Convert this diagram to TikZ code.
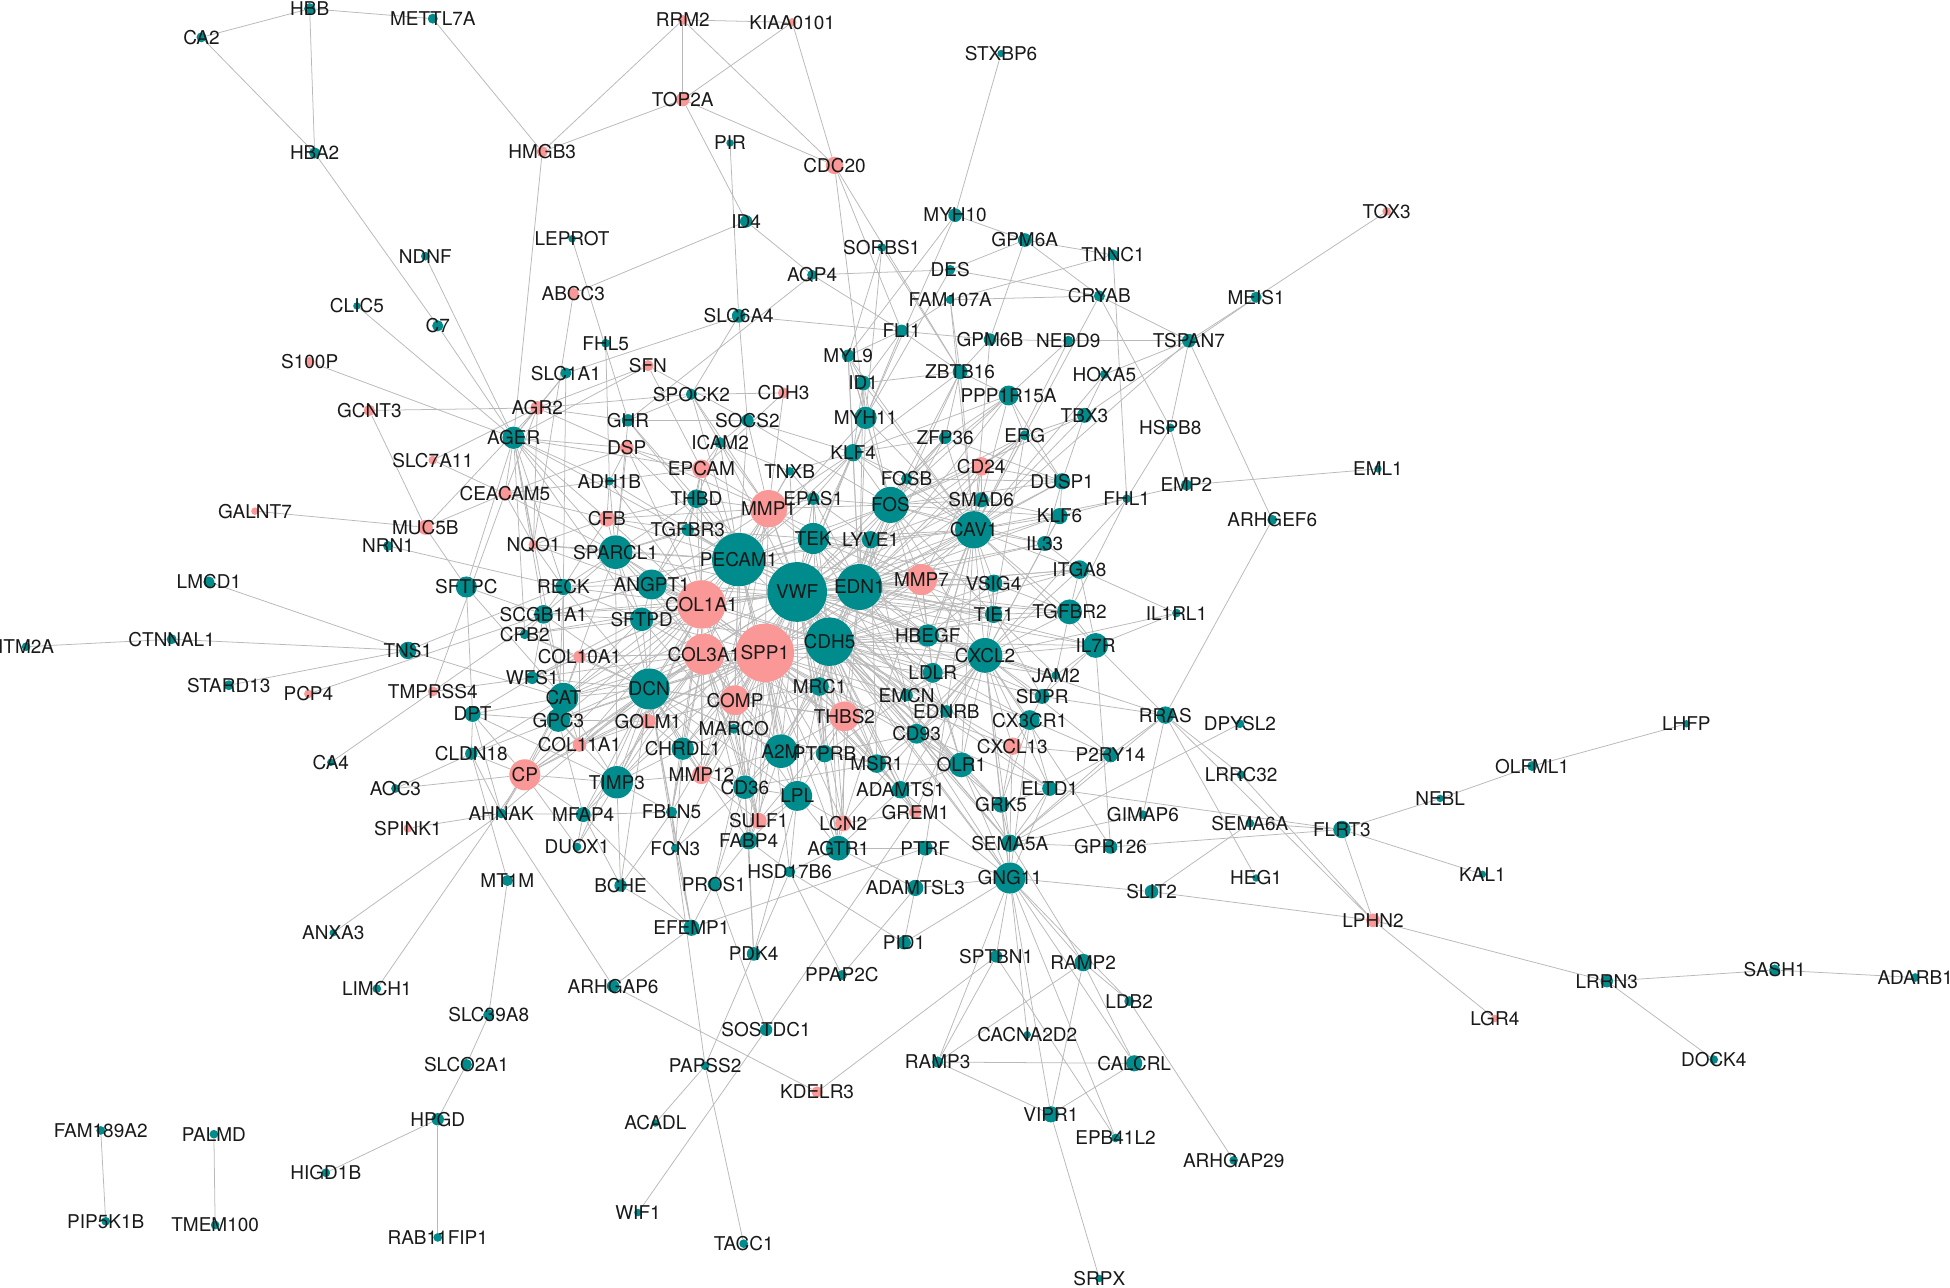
\documentclass[tikz,border=0pt]{standalone}
\usepackage{fontspec}
\setmainfont{TeX Gyre Heros}
\usetikzlibrary{backgrounds}
\definecolor{tl}{RGB}{0,140,140}
\definecolor{pk}{RGB}{249,152,150}
\definecolor{edgegray}{RGB}{185,185,185}

% genes: name/x/y/diameter/colour
\def\genelist{HBB/249/7/9/tl,METTL7A/348/15/8/tl,CA2/162/30/8/tl,HBA2/253/123/9/tl,NDNF/342/206/7/tl,
CLIC5/287/246/6/tl,C7/352/262/9/tl,S100P/249/291/8/pk,GCNT3/297/330/9/pk,RRM2/549/16/8/pk,
KIAA0101/637/18/7/pk,TOP2A/549/80/11/pk,HMGB3/436/122/9/pk,PIR/587/115/6/tl,CDC20/671/133/14/pk,
ID4/600/178/10/tl,LEPROT/460/192/6/tl,ABCC3/461/236/9/pk,SLC6A4/594/254/11/tl,FHL5/487/276/7/tl,
SFN/521/294/9/pk,SLC1A1/455/300/9/tl,SPOCK2/556/317/9/tl,CDH3/630/316/9/pk,AGR2/432/328/11/pk,
GHR/505/338/10/tl,SOCS2/601/338/10/tl,STXBP6/805/43/6/tl,MYH10/768/173/11/tl,SORBS1/709/199/7/tl,
AQP4/653/221/8/tl,DES/764/217/8/tl,FAM107A/764/241/7/tl,FLI1/725/266/10/tl,MYL9/682/286/10/tl,
ID1/694/308/12/tl,MYH11/696/336/18/tl,ZBTB16/772/299/12/tl,GPM6A/824/193/11/tl,TNNC1/895/205/9/tl,
CRYAB/884/238/9/tl,GPM6B/796/273/10/tl,NEDD9/859/274/8/tl,TSPAN7/956/274/11/tl,MEIS1/1010/239/9/tl,
TOX3/1115/170/7/pk,HOXA5/888/301/7/tl,PPP1R15A/811/318/16/tl,TBX3/872/334/12/tl,HSPB8/941/344/7/tl,
ZFP36/760/352/10/tl,ERG/824/350/8/tl,CD24/789/375/15/pk,DUSP1/854/387/13/tl,FOSB/729/385/9/tl,
KLF4/686/364/14/tl,EML1/1108/377/6/tl,EMP2/954/390/9/tl,FHL1/906/401/7/tl,SMAD6/789/402/12/tl,
KLF6/852/415/13/tl,ARHGEF6/1023/418/8/tl,IL33/840/437/12/tl,CAV1/783/426/30/tl,ITGA8/868/458/15/tl,
VSIG4/799/469/14/tl,TIE1/799/494/14/tl,TGFBR2/860/492/20/tl,IL1RL1/946/493/7/tl,IL7R/881/519/20/tl,
CXCL2/792/527/28/tl,JAM2/849/543/7/tl,SDPR/838/560/12/tl,RRAS/937/575/14/tl,DPYSL2/997/582/7/tl,
CX3CR1/828/579/16/tl,CXCL13/814/600/14/pk,P2RY14/893/607/12/tl,LRRC32/998/623/7/tl,ELTD1/844/634/12/tl,
GRK5/805/647/13/tl,GIMAP6/919/655/7/tl,SEMA6A/1005/662/7/tl,FLRT3/1079/667/14/tl,NEBL/1158/642/6/tl,
SEMA5A/812/678/14/tl,GPR126/893/681/11/tl,LHFP/1356/582/6/tl,OLFML1/1232/616/8/tl,KAL1/1192/703/6/tl,
LPHN2/1104/740/11/pk,LGR4/1202/819/6/pk,LRRN3/1292/789/10/tl,SASH1/1427/780/9/tl,ADARB1/1540/786/7/tl,
DOCK4/1378/852/7/tl,HEG1/1010/706/6/tl,SLIT2/926/717/11/tl,GNG11/812/706/25/tl,PTRF/744/682/12/tl,
ADAMTSL3/736/714/13/tl,PID1/727/758/11/tl,SPTBN1/801/769/10/tl,RAMP2/871/774/14/tl,LDB2/908/805/8/tl,
CACNA2D2/826/832/6/tl,CALCRL/912/855/13/tl,RAMP3/754/854/9/tl,VIPR1/845/896/13/tl,EPB41L2/897/915/7/tl,
ARHGAP29/992/933/7/tl,SRPX/884/1028/6/tl,LMCD1/168/468/9/tl,ITM2A/21/520/7/tl,CTNNAL1/138/514/8/tl,
STARD13/184/551/8/tl,PCP4/248/558/7/pk,TNS1/328/523/14/tl,TMPRSS4/348/556/8/pk,GALNT7/205/411/6/pk,
MUC5B/342/424/12/pk,NRN1/312/439/8/tl,SLC7A11/348/370/7/pk,SFTPC/375/472/17/tl,DPT/380/574/13/tl,
CA4/266/613/6/tl,CLDN18/379/606/10/tl,AOC3/318/634/7/tl,SPINK1/328/666/7/pk,AHNAK/403/654/8/tl,
ANXA3/268/750/6/tl,LIMCH1/303/795/7/tl,MT1M/408/708/9/tl,SLC39A8/393/816/9/tl,SLCO2A1/375/856/9/tl,
HPGD/352/900/10/tl,HIGD1B/262/943/7/tl,RAB11FIP1/352/995/7/tl,FAM189A2/81/909/7/tl,PIP5K1B/85/982/7/tl,
PALMD/172/912/7/tl,TMEM100/173/985/7/tl,AGER/413/352/18/tl,CEACAM5/406/397/11/pk,NQO1/429/438/8/pk,
RECK/453/472/13/tl,SCGB1A1/437/494/15/tl,CPB2/422/510/8/tl,COL10A1/466/528/10/pk,WFS1/428/545/10/tl,
CAT/453/561/24/tl,GPC3/449/579/19/tl,COL11A1/466/599/11/pk,CP/422/623/25/pk,TIMP3/496/629/26/tl,
MFAP4/469/655/12/tl,DUOX1/464/681/7/tl,BCHE/499/712/10/tl,FCN3/543/682/7/tl,FBLN5/540/653/9/tl,
PROS1/574/711/10/tl,HSD17B6/635/701/9/tl,AGTR1/674/682/20/tl,EFEMP1/556/746/13/tl,PDK4/606/767/11/tl,
ARHGAP6/493/793/10/tl,SOSTDC1/616/828/10/tl,PAPSS2/567/857/7/tl,KDELR3/657/878/9/pk,ACADL/527/903/6/tl,
WIF1/513/975/6/tl,TACC1/598/1000/7/tl,PPAP2C/677/784/8/tl,DSP/504/360/11/pk,ADH1B/490/387/7/tl,
ICAM2/579/356/9/tl,EPCAM/564/377/15/pk,THBD/560/401/15/tl,CFB/488/417/13/pk,TGFBR3/553/426/10/tl,
SPARCL1/495/444/27/tl,ANGPT1/524/470/24/tl,SFTPD/516/498/19/tl,TNXB/635/379/7/tl,EPAS1/654/401/10/tl,
MMP1/618/409/30/pk,TEK/654/433/25/tl,LYVE1/700/434/14/tl,PECAM1/594/450/43/tl,VWF/641/476/48/tl,
EDN1/691/472/37/tl,MMP7/741/466/25/pk,COL1A1/564/486/39/pk,SPP1/615/525/47/pk,COL3A1/566/526/33/pk,
DCN/522/554/33/tl,CDH5/667/516/39/tl,FOS/716/406/29/tl,COMP/591/563/24/pk,MRC1/659/552/15/tl,
HBEGF/746/511/18/tl,LDLR/750/541/16/tl,EMCN/729/559/10/tl,EDNRB/761/572/10/tl,CD93/737/590/16/tl,
THBS2/679/576/24/pk,GOLM1/521/580/12/pk,MARCO/590/586/8/tl,CHRDL1/549/602/18/tl,A2M/628/604/27/tl,
PTPRB/663/606/14/tl,MSR1/705/614/15/tl,OLR1/773/615/20/tl,MMP12/564/623/15/pk,CD36/599/633/19/tl,
LPL/641/640/24/tl,ADAMTS1/724/635/14/tl,GREM1/736/653/10/pk,SULF1/610/660/13/pk,LCN2/678/662/13/pk,
FABP4/602/676/14/tl}

% interactions
\def\linklist{HBB/CA2,HBB/METTL7A,HBB/HBA2,CA2/HBA2,HBA2/C7,C7/AGER,METTL7A/HMGB3,NDNF/AGER,CLIC5/AGER,
S100P/AGER,GCNT3/AGR2,GCNT3/MUC5B,HMGB3/RRM2,HMGB3/TOP2A,HMGB3/AGER,RRM2/KIAA0101,RRM2/TOP2A,RRM2/CDC20,
KIAA0101/TOP2A,KIAA0101/CDC20,TOP2A/CDC20,TOP2A/ID4,PIR/SLC6A4,ID4/ABCC3,ID4/AQP4,AQP4/FLI1,AQP4/DES,
AQP4/GHR,LEPROT/GHR,ABCC3/NQO1,SLC1A1/SLC6A4,FHL5/ADH1B,SFN/AGR2,SFN/EPCAM,SFN/SOCS2,CDC20/MYH11,
CDC20/ZBTB16,CDC20/FLI1,STXBP6/MYH10,MYH10/GPM6A,MYH10/MYL9,MYH10/MYH11,SORBS1/MYH11,SORBS1/ZBTB16,
SORBS1/MYL9,DES/MYH11,DES/CRYAB,DES/GPM6A,SLC6A4/GPM6B,SLC6A4/SPOCK2,SLC6A4/SOCS2,FLI1/MYL9,FLI1/ZBTB16,
FLI1/MYH11,FLI1/FAM107A,FLI1/ID1,ID1/MYH11,ID1/ZBTB16,MYL9/ID1,GHR/SOCS2,GHR/SPOCK2,AGR2/SPOCK2,
GPM6A/TNNC1,GPM6A/CRYAB,GPM6A/GPM6B,TNNC1/FHL1,FAM107A/TNNC1,FAM107A/CRYAB,CRYAB/TSPAN7,CRYAB/HSPB8,
NEDD9/TSPAN7,NEDD9/GPM6B,NEDD9/PPP1R15A,TSPAN7/MEIS1,MEIS1/TOX3,MEIS1/TBX3,TSPAN7/HOXA5,TSPAN7/HSPB8,
TSPAN7/ARHGEF6,ARHGEF6/RRAS,HSPB8/EMP2,HSPB8/FHL1,FHL1/EMP2,EMP2/EML1,FHL1/KLF6,FHL1/TGFBR2,FHL1/CXCL2,
IL1RL1/ITGA8,IL1RL1/IL7R,IL7R/RRAS,IL7R/GPR126,IL7R/TGFBR2,IL7R/CXCL2,IL7R/ITGA8,RRAS/SDPR,RRAS/SEMA5A,
RRAS/LPHN2,RRAS/HEG1,RRAS/LRRC32,DPYSL2/SEMA5A,LRRC32/LPHN2,ELTD1/FLRT3,GPR126/FLRT3,SEMA6A/FLRT3,
NEBL/FLRT3,NEBL/OLFML1,OLFML1/LHFP,FLRT3/KAL1,FLRT3/LPHN2,LPHN2/SLIT2,LPHN2/LRRN3,LPHN2/LGR4,LRRN3/SASH1,
SASH1/ADARB1,LRRN3/DOCK4,SLIT2/SEMA6A,SLIT2/GNG11,GIMAP6/SEMA5A,GIMAP6/RRAS,P2RY14/CXCL13,P2RY14/RRAS,
P2RY14/SEMA5A,GNG11/RAMP2,GNG11/SPTBN1,GNG11/CALCRL,GNG11/VIPR1,GNG11/LDB2,GNG11/EPB41L2,GNG11/CACNA2D2,
GNG11/SEMA5A,GNG11/GRK5,GNG11/ELTD1,GNG11/CD93,GNG11/CX3CR1,GNG11/PTRF,GNG11/OLR1,GNG11/RAMP3,RAMP2/RAMP3,
RAMP2/LDB2,RAMP2/CALCRL,RAMP2/VIPR1,LDB2/ARHGAP29,CALCRL/VIPR1,CALCRL/RAMP3,VIPR1/SRPX,VIPR1/RAMP3,
SPTBN1/EPB41L2,SPTBN1/RAMP3,KDELR3/SPTBN1,KDELR3/ARHGAP6,PID1/HSD17B6,PID1/ADAMTSL3,PID1/GNG11,
PPAP2C/ADAMTSL3,PPAP2C/HSD17B6,SOSTDC1/PROS1,SOSTDC1/GREM1,SOSTDC1/WIF1,ACADL/PAPSS2,PAPSS2/PDK4,
PAPSS2/TACC1,PAPSS2/FCN3,EFEMP1/BCHE,EFEMP1/ARHGAP6,EFEMP1/PTRF,EFEMP1/FBLN5,EFEMP1/MFAP4,EFEMP1/DCN,
ARHGAP6/AHNAK,MT1M/SLC39A8,MT1M/CLDN18,SLC39A8/SLCO2A1,SLCO2A1/HPGD,HPGD/HIGD1B,HPGD/RAB11FIP1,
FAM189A2/PIP5K1B,PALMD/TMEM100,ANXA3/AHNAK,LIMCH1/CP,SPINK1/AHNAK,AOC3/CLDN18,CA4/SCGB1A1,LMCD1/TNS1,
CTNNAL1/TNS1,ITM2A/CTNNAL1,STARD13/TNS1,PCP4/SCGB1A1,TNS1/RECK,TNS1/CAT,TMPRSS4/WFS1,TMPRSS4/CEACAM5,
GALNT7/MUC5B,NRN1/RECK,MUC5B/SFTPC,MUC5B/CEACAM5,MUC5B/AGR2,SLC7A11/CEACAM5,SLC7A11/AGR2,SFTPC/DPT,
SFTPC/SCGB1A1,SFTPC/AGER,DPT/CLDN18,SFTPC/CAT,
AGER/AGR2,AGER/CEACAM5,AGER/SCGB1A1,AGER/RECK,AGER/PECAM1,AGER/SPARCL1,AGER/DSP,AGER/ADH1B,AGER/SLC1A1,
AGER/SFN,AGER/NQO1,AGER/CAT,AGER/SFTPD,AGER/CPB2,AGER/EPCAM,AGER/CFB,AGR2/CEACAM5,AGR2/DSP,AGR2/SLC1A1,
AGR2/GHR,AGR2/NQO1,CEACAM5/NQO1,CEACAM5/DSP,CEACAM5/EPCAM,CEACAM5/CFB,CEACAM5/SPARCL1,SPOCK2/PECAM1,
SOCS2/KLF4,SOCS2/FOS,CDH3/MMP1,CDH3/EPCAM,CDH3/SPOCK2,SLC1A1/RECK,GHR/SPARCL1,GHR/THBD,SPOCK2/ICAM2,
SOCS2/ICAM2,DSP/EPCAM,DSP/SPARCL1,
ZBTB16/KLF4,ZBTB16/FOS,ZBTB16/PPP1R15A,ZBTB16/ZFP36,PPP1R15A/ZFP36,PPP1R15A/ERG,PPP1R15A/DUSP1,
PPP1R15A/KLF4,PPP1R15A/FOSB,HOXA5/TBX3,HOXA5/CAV1,TBX3/ERG,TBX3/CAV1,TBX3/DUSP1,ERG/DUSP1,ERG/TIE1,
ERG/VWF,ERG/CD24,CD24/DUSP1,CD24/SMAD6,ZFP36/DUSP1,ZFP36/FOSB,DUSP1/KLF6,DUSP1/IL33,KLF6/IL33,KLF6/SMAD6,
IL33/ITGA8,ITGA8/TGFBR2,TGFBR2/TIE1,TGFBR2/VSIG4,TGFBR2/JAM2,TGFBR2/CXCL2,JAM2/SDPR,SDPR/CX3CR1,
CX3CR1/CXCL13,CX3CR1/P2RY14,ELTD1/GRK5,GRK5/SEMA5A,ELTD1/SEMA5A,MYH11/MYL9,MYH11/KLF4,ID1/KLF4,ID1/FOS,
GPM6B/ZBTB16,GPM6B/CAV1,FAM107A/ZBTB16,FAM107A/CAV1,MYL9/KLF4,MYH11/FOS,MYH11/CAV1,ZFP36/KLF4,FOSB/KLF4,
FOSB/DUSP1,FOSB/EDN1,
VWF/PECAM1,VWF/CDH5,VWF/EDN1,VWF/SPP1,VWF/COL1A1,VWF/COL3A1,VWF/TEK,VWF/MMP1,VWF/CAV1,VWF/CXCL2,VWF/FOS,
VWF/DCN,VWF/A2M,VWF/THBS2,VWF/COMP,VWF/MMP7,VWF/HBEGF,VWF/TIE1,VWF/VSIG4,VWF/LYVE1,VWF/EPAS1,VWF/ANGPT1,
VWF/SPARCL1,VWF/TGFBR3,VWF/THBD,VWF/ICAM2,VWF/MRC1,VWF/CD36,VWF/LPL,VWF/PTPRB,VWF/MSR1,VWF/EMCN,VWF/CD93,
VWF/OLR1,VWF/LDLR,VWF/ITGA8,VWF/TGFBR2,VWF/IL33,VWF/KLF4,VWF/MYH11,VWF/KLF6,VWF/SMAD6,VWF/EDNRB,VWF/ADAMTS1,
VWF/GNG11,VWF/SEMA5A,VWF/CX3CR1,VWF/SDPR,VWF/JAM2,VWF/CAT,VWF/TIMP3,VWF/SFTPD,VWF/CHRDL1,VWF/MARCO,
VWF/FABP4,VWF/AGTR1,VWF/LCN2,VWF/SULF1,VWF/SCGB1A1,VWF/IL7R,VWF/ELTD1,VWF/GRK5,VWF/TNXB,VWF/ZFP36,
PECAM1/CDH5,PECAM1/EDN1,PECAM1/SPP1,PECAM1/COL1A1,PECAM1/COL3A1,PECAM1/TEK,PECAM1/MMP1,PECAM1/CAV1,
PECAM1/ICAM2,PECAM1/EPCAM,PECAM1/THBD,PECAM1/TGFBR3,PECAM1/ANGPT1,PECAM1/SPARCL1,PECAM1/DCN,PECAM1/CXCL2,
PECAM1/FOS,PECAM1/KLF4,PECAM1/TNXB,PECAM1/ADH1B,PECAM1/CFB,PECAM1/DSP,PECAM1/SFTPD,PECAM1/RECK,PECAM1/COMP,
PECAM1/MARCO,PECAM1/CD36,PECAM1/A2M,PECAM1/LYVE1,PECAM1/EPAS1,PECAM1/VSIG4,PECAM1/TIE1,PECAM1/HBEGF,
PECAM1/CAT,PECAM1/NQO1,PECAM1/SCGB1A1,PECAM1/GHR,PECAM1/SOCS2,PECAM1/MYH11,PECAM1/LPL,
SPP1/COL1A1,SPP1/COL3A1,SPP1/CDH5,SPP1/DCN,SPP1/COMP,SPP1/MMP1,SPP1/MMP7,SPP1/MMP12,SPP1/THBS2,SPP1/A2M,
SPP1/CD36,SPP1/LPL,SPP1/MARCO,SPP1/MRC1,SPP1/LCN2,SPP1/SULF1,SPP1/TIMP3,SPP1/CHRDL1,SPP1/GOLM1,SPP1/CP,
SPP1/CAT,SPP1/COL10A1,SPP1/COL11A1,SPP1/GPC3,SPP1/CXCL2,SPP1/FOS,SPP1/EDN1,SPP1/CAV1,SPP1/HBEGF,SPP1/LDLR,
SPP1/PTPRB,SPP1/MSR1,SPP1/OLR1,SPP1/FABP4,SPP1/FBLN5,SPP1/AGTR1,SPP1/SFTPD,SPP1/ANGPT1,SPP1/SPARCL1,
SPP1/CXCL13,SPP1/TEK,SPP1/EMCN,SPP1/CD93,SPP1/ADAMTS1,SPP1/GREM1,SPP1/PROS1,SPP1/HSD17B6,
COL1A1/COL3A1,COL1A1/DCN,COL1A1/MMP1,COL1A1/COMP,COL1A1/THBS2,COL1A1/SPARCL1,COL1A1/ANGPT1,COL1A1/SFTPD,
COL1A1/RECK,COL1A1/COL10A1,COL1A1/COL11A1,COL1A1/TIMP3,COL1A1/CP,COL1A1/CAT,COL1A1/GOLM1,COL1A1/MMP12,
COL1A1/CHRDL1,COL1A1/EPCAM,COL1A1/CFB,COL1A1/THBD,COL1A1/TGFBR3,COL1A1/MMP7,COL1A1/CDH5,COL1A1/EDN1,
COL1A1/SCGB1A1,COL1A1/WFS1,COL1A1/GPC3,COL1A1/SULF1,COL1A1/FBLN5,COL1A1/A2M,COL1A1/TEK,COL1A1/CPB2,
COL1A1/NQO1,COL1A1/ADH1B,COL1A1/DSP,
COL3A1/DCN,COL3A1/COMP,COL3A1/THBS2,COL3A1/TIMP3,COL3A1/MMP12,COL3A1/CHRDL1,COL3A1/GOLM1,COL3A1/COL11A1,
COL3A1/COL10A1,COL3A1/CP,COL3A1/CAT,COL3A1/GPC3,COL3A1/MFAP4,COL3A1/FBLN5,COL3A1/SULF1,COL3A1/CD36,
COL3A1/LPL,COL3A1/A2M,COL3A1/MARCO,COL3A1/MRC1,COL3A1/SFTPD,COL3A1/ANGPT1,COL3A1/SPARCL1,COL3A1/MMP1,
COL3A1/WFS1,COL3A1/FABP4,COL3A1/CDH5,
CDH5/EDN1,CDH5/TEK,CDH5/CAV1,CDH5/HBEGF,CDH5/CXCL2,CDH5/LDLR,CDH5/EMCN,CDH5/EDNRB,CDH5/CD93,CDH5/PTPRB,
CDH5/MSR1,CDH5/OLR1,CDH5/MRC1,CDH5/THBS2,CDH5/A2M,CDH5/LPL,CDH5/ADAMTS1,CDH5/GREM1,CDH5/TIE1,CDH5/VSIG4,
CDH5/MMP7,CDH5/LYVE1,CDH5/EPAS1,CDH5/FOS,CDH5/TGFBR2,CDH5/IL7R,CDH5/JAM2,CDH5/SDPR,CDH5/CX3CR1,
CDH5/CXCL13,CDH5/ELTD1,CDH5/GRK5,CDH5/SEMA5A,CDH5/GNG11,CDH5/ITGA8,CDH5/AGTR1,CDH5/LCN2,CDH5/COMP,
CDH5/DCN,CDH5/SFTPD,CDH5/ANGPT1,
EDN1/CAV1,EDN1/FOS,EDN1/MMP7,EDN1/TEK,EDN1/LYVE1,EDN1/HBEGF,EDN1/CXCL2,EDN1/TIE1,EDN1/VSIG4,EDN1/KLF4,
EDN1/ZFP36,EDN1/KLF6,EDN1/DUSP1,EDN1/ERG,EDN1/SMAD6,EDN1/IL33,EDN1/ITGA8,EDN1/TGFBR2,EDN1/IL7R,EDN1/EPAS1,
EDN1/CD24,EDN1/PPP1R15A,EDN1/ZBTB16,EDN1/MYH11,EDN1/ID1,EDN1/MYL9,EDN1/LDLR,EDN1/EMCN,EDN1/MRC1,EDN1/A2M,
EDN1/AGTR1,EDN1/EDNRB,EDN1/THBS2,EDN1/MMP1,
DCN/CAT,DCN/GPC3,DCN/TIMP3,DCN/GOLM1,DCN/CHRDL1,DCN/COMP,DCN/MFAP4,DCN/FBLN5,DCN/CP,DCN/COL11A1,
DCN/COL10A1,DCN/WFS1,DCN/SCGB1A1,DCN/SFTPD,DCN/ANGPT1,DCN/SPARCL1,DCN/RECK,DCN/MMP12,DCN/CD36,DCN/A2M,
DCN/MARCO,DCN/DUOX1,DCN/FCN3,DCN/BCHE,DCN/AHNAK,DCN/CPB2,DCN/LPL,DCN/THBS2,DCN/FABP4,
CAV1/FOS,CAV1/CXCL2,CAV1/MMP7,CAV1/HBEGF,CAV1/SMAD6,CAV1/KLF6,CAV1/DUSP1,CAV1/IL33,CAV1/ITGA8,CAV1/TGFBR2,
CAV1/VSIG4,CAV1/TIE1,CAV1/CD24,CAV1/ERG,CAV1/ZFP36,CAV1/FOSB,CAV1/KLF4,CAV1/PPP1R15A,CAV1/ZBTB16,
CAV1/NEDD9,CAV1/FHL1,CAV1/LDLR,CAV1/EMCN,CAV1/CD93,CAV1/TEK,CAV1/LYVE1,CAV1/IL7R,CAV1/OLR1,CAV1/MYL9,
CAV1/ID1,CAV1/PTRF,CAV1/CRYAB,CAV1/TSPAN7,
CXCL2/HBEGF,CXCL2/LDLR,CXCL2/TIE1,CXCL2/VSIG4,CXCL2/ITGA8,CXCL2/JAM2,CXCL2/SDPR,CXCL2/CX3CR1,CXCL2/CXCL13,
CXCL2/P2RY14,CXCL2/GRK5,CXCL2/ELTD1,CXCL2/SEMA5A,CXCL2/GNG11,CXCL2/OLR1,CXCL2/CD93,CXCL2/EDNRB,
CXCL2/EMCN,CXCL2/MSR1,CXCL2/FOS,CXCL2/MMP7,CXCL2/ADAMTS1,CXCL2/GREM1,CXCL2/RRAS,CXCL2/IL1RL1,CXCL2/IL33,
CXCL2/KLF6,CXCL2/LCN2,CXCL2/THBS2,CXCL2/GPR126,
FOS/FOSB,FOS/KLF4,FOS/ZFP36,FOS/DUSP1,FOS/KLF6,FOS/CD24,FOS/SMAD6,FOS/ERG,FOS/PPP1R15A,FOS/EPAS1,
FOS/LYVE1,FOS/MMP7,FOS/TEK,FOS/MYL9,FOS/HBEGF,FOS/TIE1,FOS/MMP1,FOS/IL33,FOS/TBX3,
MMP1/MMP7,MMP1/MMP12,MMP1/EPCAM,MMP1/ICAM2,MMP1/THBD,MMP1/TGFBR3,MMP1/TNXB,MMP1/EPAS1,MMP1/CFB,MMP1/DSP,
MMP1/SPARCL1,MMP1/COMP,MMP1/THBS2,MMP1/SOCS2,MMP1/SPOCK2,MMP1/TEK,MMP1/KLF4,MMP1/ANGPT1,
TEK/ANGPT1,TEK/TIE1,TEK/LYVE1,TEK/EPAS1,TEK/HBEGF,TEK/VSIG4,TEK/KLF4,TEK/TGFBR3,TEK/EMCN,TEK/PTPRB,
LYVE1/MRC1,LYVE1/MSR1,LYVE1/EMCN,LYVE1/SMAD6,SPARCL1/ANGPT1,SPARCL1/SFTPD,SPARCL1/RECK,SPARCL1/CFB,
SPARCL1/TGFBR3,SPARCL1/THBD,SPARCL1/ADH1B,SPARCL1/NQO1,SPARCL1/SCGB1A1,SPARCL1/CAT,SPARCL1/TIMP3,
ANGPT1/SFTPD,ANGPT1/TGFBR3,ANGPT1/THBD,ANGPT1/RECK,ANGPT1/SCGB1A1,ANGPT1/TIE1,SFTPD/SCGB1A1,SFTPD/CPB2,
SFTPD/CAT,SFTPD/WFS1,SFTPD/RECK,SFTPD/MARCO,SCGB1A1/CPB2,SCGB1A1/RECK,SCGB1A1/WFS1,SCGB1A1/CAT,
CPB2/COL10A1,WFS1/CAT,RECK/NQO1,RECK/CFB,RECK/CAT,RECK/GPC3,CAT/GPC3,CAT/COL10A1,CAT/TIMP3,CAT/CP,
CAT/COL11A1,CAT/DPT,GPC3/COL11A1,GPC3/CP,GPC3/TIMP3,GPC3/GOLM1,GPC3/MFAP4,GPC3/DPT,GPC3/CLDN18,
CP/TIMP3,CP/COL11A1,CP/MFAP4,CP/DUOX1,CP/AHNAK,CP/CLDN18,CP/DPT,CP/AOC3,TIMP3/MFAP4,TIMP3/FBLN5,
TIMP3/GOLM1,TIMP3/CHRDL1,TIMP3/MMP12,TIMP3/DUOX1,TIMP3/BCHE,MFAP4/FBLN5,MFAP4/DUOX1,MFAP4/BCHE,
FBLN5/BCHE,FBLN5/CHRDL1,FBLN5/FCN3,GOLM1/CHRDL1,GOLM1/COMP,GOLM1/COL11A1,CHRDL1/MARCO,CHRDL1/MMP12,
CHRDL1/FCN3,COMP/THBS2,COMP/MMP12,COMP/MARCO,COMP/A2M,COMP/CD36,COMP/MRC1,COMP/SULF1,MRC1/MSR1,
MRC1/CD36,MRC1/MARCO,MRC1/A2M,MRC1/PTPRB,MRC1/THBS2,THBS2/A2M,THBS2/PTPRB,THBS2/LCN2,THBS2/GREM1,
THBS2/SULF1,THBS2/MSR1,A2M/PTPRB,A2M/LPL,A2M/CD36,A2M/MARCO,A2M/FABP4,A2M/MMP12,PTPRB/LPL,PTPRB/MSR1,
PTPRB/CD93,PTPRB/EMCN,PTPRB/AGTR1,MSR1/CD93,MSR1/OLR1,MSR1/ADAMTS1,MSR1/CD36,MSR1/MARCO,CD36/LPL,
CD36/MARCO,CD36/FABP4,CD36/MMP12,CD36/SULF1,CD36/PROS1,CD36/FCN3,LPL/FABP4,LPL/AGTR1,LPL/LCN2,LPL/PDK4,
LPL/HSD17B6,LPL/SULF1,LCN2/MMP7,LCN2/GREM1,LCN2/AGTR1,GREM1/ADAMTS1,ADAMTS1/CD93,ADAMTS1/OLR1,
ADAMTS1/GNG11,ADAMTS1/AGTR1,OLR1/CD93,OLR1/EDNRB,OLR1/LDLR,CD93/EMCN,CD93/EDNRB,EMCN/EDNRB,EMCN/LDLR,
LDLR/HBEGF,HBEGF/TIE1,HBEGF/MMP7,HBEGF/VSIG4,TIE1/VSIG4,VSIG4/ITGA8,TIE1/JAM2,MMP7/LDLR,MMP7/CD24,
FABP4/PROS1,FABP4/HSD17B6,FABP4/PDK4,FABP4/SULF1,AGTR1/PTRF,AGTR1/ADAMTSL3,AGTR1/HSD17B6,PTRF/ADAMTSL3,
ADAMTSL3/GNG11,PDK4/CD36,PDK4/HSD17B6,FCN3/MARCO,PROS1/EFEMP1,FCN3/EFEMP1,ICAM2/THBD,ICAM2/EPCAM,
ICAM2/TNXB,EPCAM/THBD,EPCAM/TGFBR3,THBD/TGFBR3,THBD/CFB,TGFBR3/CFB,TNXB/EPAS1,TNXB/KLF4,EPAS1/KLF4,
EPAS1/LYVE1,CFB/NQO1,CFB/ADH1B,ADH1B/DSP,COL10A1/COL11A1,COL10A1/WFS1,MMP12/MARCO,MMP12/SULF1,
AHNAK/CLDN18,AHNAK/DPT,AHNAK/CAT,AHNAK/MFAP4,DPT/WFS1,DPT/TIMP3,CLDN18/CAT,JAM2/IL7R,SDPR/IL7R,SDPR/TIE1,
CX3CR1/GRK5,CX3CR1/ELTD1,CXCL13/GRK5,CXCL13/SEMA5A,P2RY14/ELTD1,GRK5/CD93,ELTD1/CD93,SEMA5A/CD93,
SEMA5A/OLR1,SEMA5A/RAMP2,GPR126/SEMA5A}

\begin{document}
\begin{tikzpicture}[x=0.02cm, y=-0.02cm,
    gene/.style={circle, inner sep=0pt, draw=none},
    lbl/.style={inner sep=0pt, text=black!90, font=\fontsize{8.7}{9}\selectfont},
    edge/.style={draw=edgegray, line width=0.35pt}
]
\useasboundingbox (0,0) rectangle (1568,1035);

% Gene nodes, sized by degree
\foreach \gname/\x/\y/\sz/\col in \genelist
  \node[gene, fill=\col, minimum size=\sz*0.02cm] (\gname) at (\x,\y) {};

% Gene names on top
\foreach \gname/\x/\y/\sz/\col in \genelist
  \node[lbl] (\gname-lab) at (\gname) {\gname};

% Interactions behind the nodes
\begin{pgfonlayer}{background}
\fill[white] (0,0) rectangle (1568,1035);
\foreach \a/\b in \linklist
  \draw[edge] (\a) -- (\b);
\end{pgfonlayer}
\end{tikzpicture}
\end{document}
